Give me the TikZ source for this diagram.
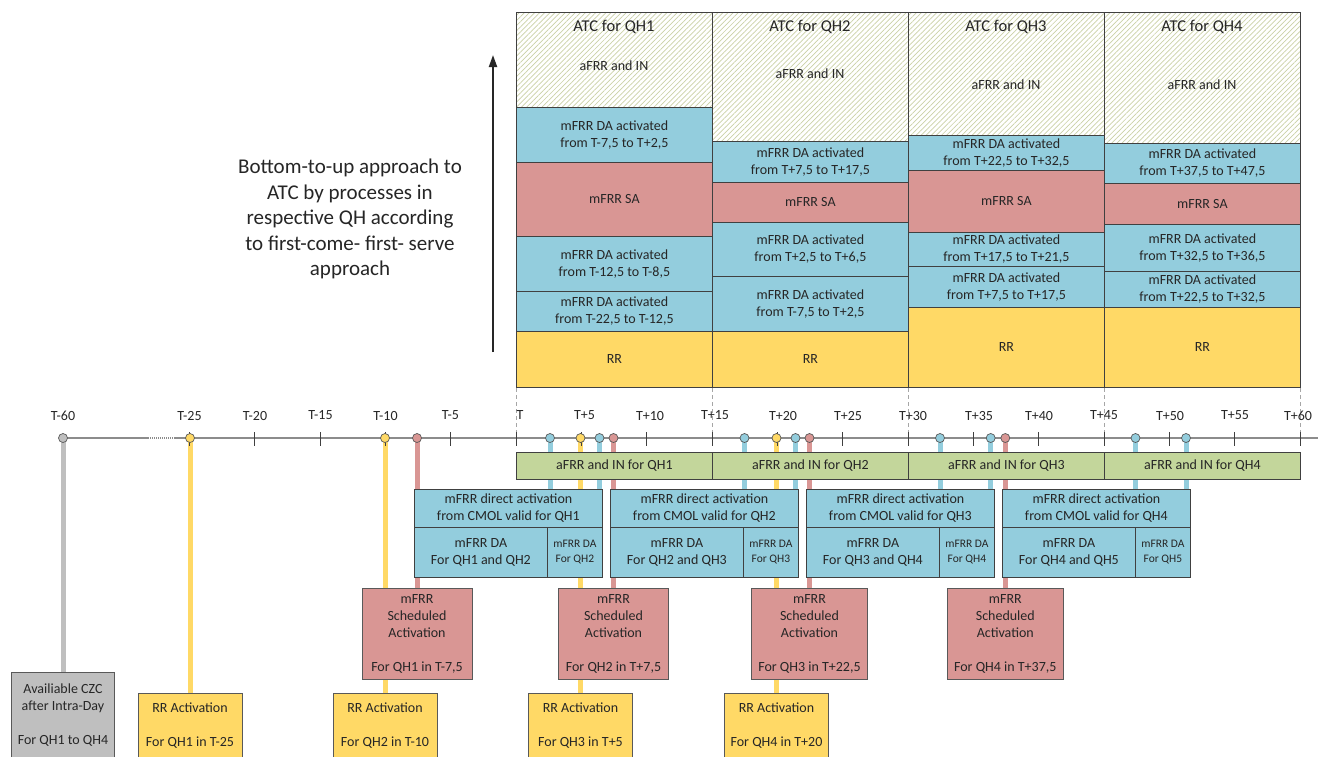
\documentclass[tikz,border=0pt]{standalone}
\usepackage{fontspec}
\setmainfont{Carlito}
\usetikzlibrary{arrows.meta,patterns.meta}
\definecolor{cblue}{HTML}{93CDDD}
\definecolor{cred}{HTML}{D99694}
\definecolor{cyel}{HTML}{FFD966}
\definecolor{cgreen}{HTML}{C3D69B}
\definecolor{cgray}{HTML}{BFBFBF}
\definecolor{edge}{HTML}{404040}
\definecolor{hatchc}{HTML}{CBD1A6}
\definecolor{txt}{HTML}{262626}
\definecolor{axis}{HTML}{8C8C8C}
\definecolor{dotedge}{HTML}{595959}
\definecolor{vdashc}{HTML}{A6A6A6}
\newcommand\myfN{\fontsize{14}{17}\selectfont}
\newcommand\myfT{\fontsize{16.5}{19}\selectfont}
\newcommand\myfS{\fontsize{11.5}{15}\selectfont}
\newcommand\myfB{\fontsize{21}{25.5}\selectfont}
\newcommand\mkcell[7]{\node[cell,fill=#1,minimum width=#4pt,minimum height=#5pt] (#6) at (#2,#3) {#7};}
\pgfdeclarelayer{back}
\pgfdeclarelayer{bg}
\pgfsetlayers{back,bg,main}
\begin{document}
\begin{tikzpicture}[x=1pt,y=-1pt,
  cell/.style={draw=edge, line width=0.8pt, inner sep=0pt, align=center, anchor=north west, text=txt, font=\myfN},
  hatch/.style={cell, pattern={Lines[angle=45,distance=3.6pt,line width=0.7pt]}, pattern color=hatchc},
  lab/.style={inner sep=0pt, align=center, text=txt, font=\myfN},
  box/.style={draw=dotedge, line width=0.9pt, inner sep=0pt, align=center, anchor=north, text=txt, font=\myfN},
  dot/.style={circle, draw=dotedge, line width=0.7pt, minimum size=9pt, inner sep=0pt},
  vline/.style={line width=5pt},
  tick/.style={edge, line width=1pt},
  tl/.style={axis, line width=1.4pt},
  vdash/.style={vdashc, line width=0.8pt, dash pattern=on 4pt off 3pt}]
\clip (0,0) rectangle (1326,756);
\begin{pgfonlayer}{back}
\fill[white] (0,0) rectangle (1326,756);
\end{pgfonlayer}

% ---------- ATC columns ----------
\node[hatch, minimum width=196pt, minimum height=95pt] (c1h) at (516,12) {};
\mkcell{cblue}{516}{107}{196}{55}{c1b}{mFRR DA activated\\from T-7,5 to T+2,5}
\mkcell{cred}{516}{162}{196}{74}{c1r}{mFRR SA}
\mkcell{cblue}{516}{236}{196}{55}{c1c}{mFRR DA activated\\from T-12,5 to T-8,5}
\mkcell{cblue}{516}{291}{196}{40}{c1d}{mFRR DA activated\\from T-22,5 to T-12,5}
\mkcell{cyel}{516}{331}{196}{56}{c1y}{RR}

\node[hatch, minimum width=196pt, minimum height=129pt] (c2h) at (712,12) {};
\mkcell{cblue}{712}{141}{196}{41}{c2b}{mFRR DA activated\\from T+7,5 to T+17,5}
\mkcell{cred}{712}{182}{196}{40}{c2r}{mFRR SA}
\mkcell{cblue}{712}{222}{196}{54}{c2c}{mFRR DA activated\\from T+2,5 to T+6,5}
\mkcell{cblue}{712}{276}{196}{55}{c2d}{mFRR DA activated\\from T-7,5 to T+2,5}
\mkcell{cyel}{712}{331}{196}{56}{c2y}{RR}

\node[hatch, minimum width=196pt, minimum height=123pt] (c3h) at (908,12) {};
\mkcell{cblue}{908}{135}{196}{35}{c3b}{mFRR DA activated\\from T+22,5 to T+32,5}
\mkcell{cred}{908}{170}{196}{62}{c3r}{mFRR SA}
\mkcell{cblue}{908}{232}{196}{34}{c3c}{mFRR DA activated\\from T+17,5 to T+21,5}
\mkcell{cblue}{908}{266}{196}{41}{c3d}{mFRR DA activated\\from T+7,5 to T+17,5}
\mkcell{cyel}{908}{307}{196}{80}{c3y}{RR}

\node[hatch, minimum width=196pt, minimum height=131pt] (c4h) at (1104,12) {};
\mkcell{cblue}{1104}{143}{196}{40}{c4b}{mFRR DA activated\\from T+37,5 to T+47,5}
\mkcell{cred}{1104}{183}{196}{41}{c4r}{mFRR SA}
\mkcell{cblue}{1104}{224}{196}{47}{c4c}{mFRR DA activated\\from T+32,5 to T+36,5}
\mkcell{cblue}{1104}{271}{196}{36}{c4d}{mFRR DA activated\\from T+22,5 to T+32,5}
\mkcell{cyel}{1104}{307}{196}{80}{c4y}{RR}

\node[lab, font=\myfT] (t1) at (614,27) {ATC for QH1};
\node[lab, font=\myfT] (t2) at (810,27) {ATC for QH2};
\node[lab, font=\myfT] (t3) at (1006,27) {ATC for QH3};
\node[lab, font=\myfT] (t4) at (1202,27) {ATC for QH4};
\node[lab] (a1) at (614,66) {aFRR and IN};
\node[lab] (a2) at (810,74) {aFRR and IN};
\node[lab] (a3) at (1006,85) {aFRR and IN};
\node[lab] (a4) at (1202,85) {aFRR and IN};

% ---------- arrow and explanation ----------
\coordinate (arB) at (493,352);
\coordinate (arT) at (493,55);
\draw[txt, line width=2pt, -{Triangle[width=8pt,length=12pt]}] (arB) -- (arT);
\node[lab, font=\myfB] (expl) at (350,219) {Bottom-to-up approach to\\ATC by processes in\\respective QH according\\to first-come- first- serve\\approach};

% ---------- dashed guides ----------
\foreach \x in {516,712,908,1104,1300} \draw[vdash] (\x,388) -- (\x,438);

% ---------- timeline ----------
\coordinate (tl0) at (62,438);
\coordinate (tl1) at (148,438);
\coordinate (tl2) at (175,438);
\coordinate (tl3) at (1318,438);
\draw[tl] (tl0) -- (tl1);
\draw[tl, dash pattern=on 1pt off 1pt] (tl1) -- (tl2);
\draw[tl] (tl2) -- (tl3);
\foreach \m in {-25,-20,...,60} \draw[tick] ({516+13.0667*\m},432) -- ({516+13.0667*\m},446);
\foreach \x/\t [count=\i] in {63/T-60,189.5/T-25,255/T-20,320.5/T-15,385.5/T-10,450.5/T-5,520/T,584.5/T+5,650/T+10,715/T+15,783/T+20,848/T+25,913/T+30,979/T+35,1039/T+40,1104/T+45,1170/T+50,1235/T+55,1298/T+60}
  \node[lab] (lab\i) at (\x,415.5) {\t};

% ---------- green bars ----------
\node[cell, fill=cgreen, minimum width=196pt, minimum height=27pt] (g1) at (516,452) {aFRR and IN for QH1};
\node[cell, fill=cgreen, minimum width=196pt, minimum height=27pt] (g2) at (712,452) {aFRR and IN for QH2};
\node[cell, fill=cgreen, minimum width=196pt, minimum height=27pt] (g3) at (908,452) {aFRR and IN for QH3};
\node[cell, fill=cgreen, minimum width=196pt, minimum height=27pt] (g4) at (1104,452) {aFRR and IN for QH4};

% ---------- direct activation boxes ----------
\foreach \i/\a/\b in {1/1/2,2/2/3,3/3/4,4/4/5}{
  \pgfmathsetmacro\xo{414+196*(\i-1)}
  \node[cell, fill=cblue, minimum width=188pt, minimum height=38pt] (dt\i) at (\xo,489) {mFRR direct activation\\from CMOL valid for QH\i};
  \node[cell, fill=cblue, minimum width=133pt, minimum height=50pt] (dm\i) at (\xo,527) {mFRR DA\\For QH\a{} and QH\b};
  \node[cell, fill=cblue, minimum width=55pt, minimum height=50pt, font=\myfS] (ds\i) at (\xo+133,527) {mFRR DA\\For QH\b};
}

% ---------- scheduled activation boxes ----------
\node[box, fill=cred, minimum width=110pt, minimum height=91pt] (sa1) at (417,588) {mFRR\\Scheduled\\Activation\\[17pt]For QH1 in T-7,5};
\node[box, fill=cred, minimum width=110pt, minimum height=91pt] (sa2) at (613.5,588) {mFRR\\Scheduled\\Activation\\[17pt]For QH2 in T+7,5};
\node[box, fill=cred, minimum width=116pt, minimum height=91pt] (sa3) at (809.5,588) {mFRR\\Scheduled\\Activation\\[17pt]For QH3 in T+22,5};
\node[box, fill=cred, minimum width=116pt, minimum height=91pt] (sa4) at (1005.3,588) {mFRR\\Scheduled\\Activation\\[17pt]For QH4 in T+37,5};

% ---------- RR boxes ----------
\node[box, fill=cyel, minimum width=104pt, minimum height=64pt] (rr1) at (190,693) {RR Activation\\[17pt]For QH1 in T-25};
\node[box, fill=cyel, minimum width=104pt, minimum height=64pt] (rr2) at (385,693) {RR Activation\\[17pt]For QH2 in T-10};
\node[box, fill=cyel, minimum width=104pt, minimum height=64pt] (rr3) at (580.5,693) {RR Activation\\[17pt]For QH3 in T+5};
\node[box, fill=cyel, minimum width=104pt, minimum height=64pt] (rr4) at (776.5,693) {RR Activation\\[17pt]For QH4 in T+20};

% ---------- CZC box ----------
\node[box, fill=cgray, minimum width=103pt, minimum height=85pt] (czc) at (63,672) {Availiable CZC\\after Intra-Day\\[17pt]For QH1 to QH4};

% ---------- dots ----------
\node[dot, fill=cgray] (dg) at (63,438) {};
\node[dot, fill=cyel] (dy1) at (190,438) {};
\node[dot, fill=cyel] (dy2) at (385,438) {};
\node[dot, fill=cred] (dr1) at (417,438) {};
\node[dot, fill=cblue] (db1) at (550,438) {};
\node[dot, fill=cyel] (dy3) at (580.5,438) {};
\node[dot, fill=cblue] (db2) at (599.5,438) {};
\node[dot, fill=cred] (dr2) at (613.5,438) {};
\node[dot, fill=cblue] (db3) at (744.5,438) {};
\node[dot, fill=cyel] (dy4) at (776.5,438) {};
\node[dot, fill=cblue] (db4) at (795.5,438) {};
\node[dot, fill=cred] (dr3) at (809.5,438) {};
\node[dot, fill=cblue] (db5) at (940,438) {};
\node[dot, fill=cblue] (db6) at (990.7,438) {};
\node[dot, fill=cred] (dr4) at (1005.3,438) {};
\node[dot, fill=cblue] (db7) at (1135.5,438) {};
\node[dot, fill=cblue] (db8) at (1186,438) {};

% ---------- connectors (behind) ----------
\begin{pgfonlayer}{bg}
\draw[vline, cgray] (dg.center) -- (dg.center |- czc.north);
\draw[vline, cyel] (dy1.center) -- (dy1.center |- rr1.north);
\draw[vline, cyel] (dy2.center) -- (dy2.center |- rr2.north);
\draw[vline, cyel] (dy3.center) -- (dy3.center |- rr3.north);
\draw[vline, cyel] (dy4.center) -- (dy4.center |- rr4.north);
\draw[vline, cred] (dr1.center) -- (dr1.center |- sa1.north);
\draw[vline, cred] (dr2.center) -- (dr2.center |- sa2.north);
\draw[vline, cred] (dr3.center) -- (dr3.center |- sa3.north);
\draw[vline, cred] (dr4.center) -- (dr4.center |- sa4.north);
\draw[vline, cblue] (db1.center) -- (db1.center |- dt1.north);
\draw[vline, cblue] (db2.center) -- (db2.center |- dt1.north);
\draw[vline, cblue] (db3.center) -- (db3.center |- dt2.north);
\draw[vline, cblue] (db4.center) -- (db4.center |- dt2.north);
\draw[vline, cblue] (db5.center) -- (db5.center |- dt3.north);
\draw[vline, cblue] (db6.center) -- (db6.center |- dt3.north);
\draw[vline, cblue] (db7.center) -- (db7.center |- dt4.north);
\draw[vline, cblue] (db8.center) -- (db8.center |- dt4.north);
\end{pgfonlayer}
\end{tikzpicture}
\end{document}
